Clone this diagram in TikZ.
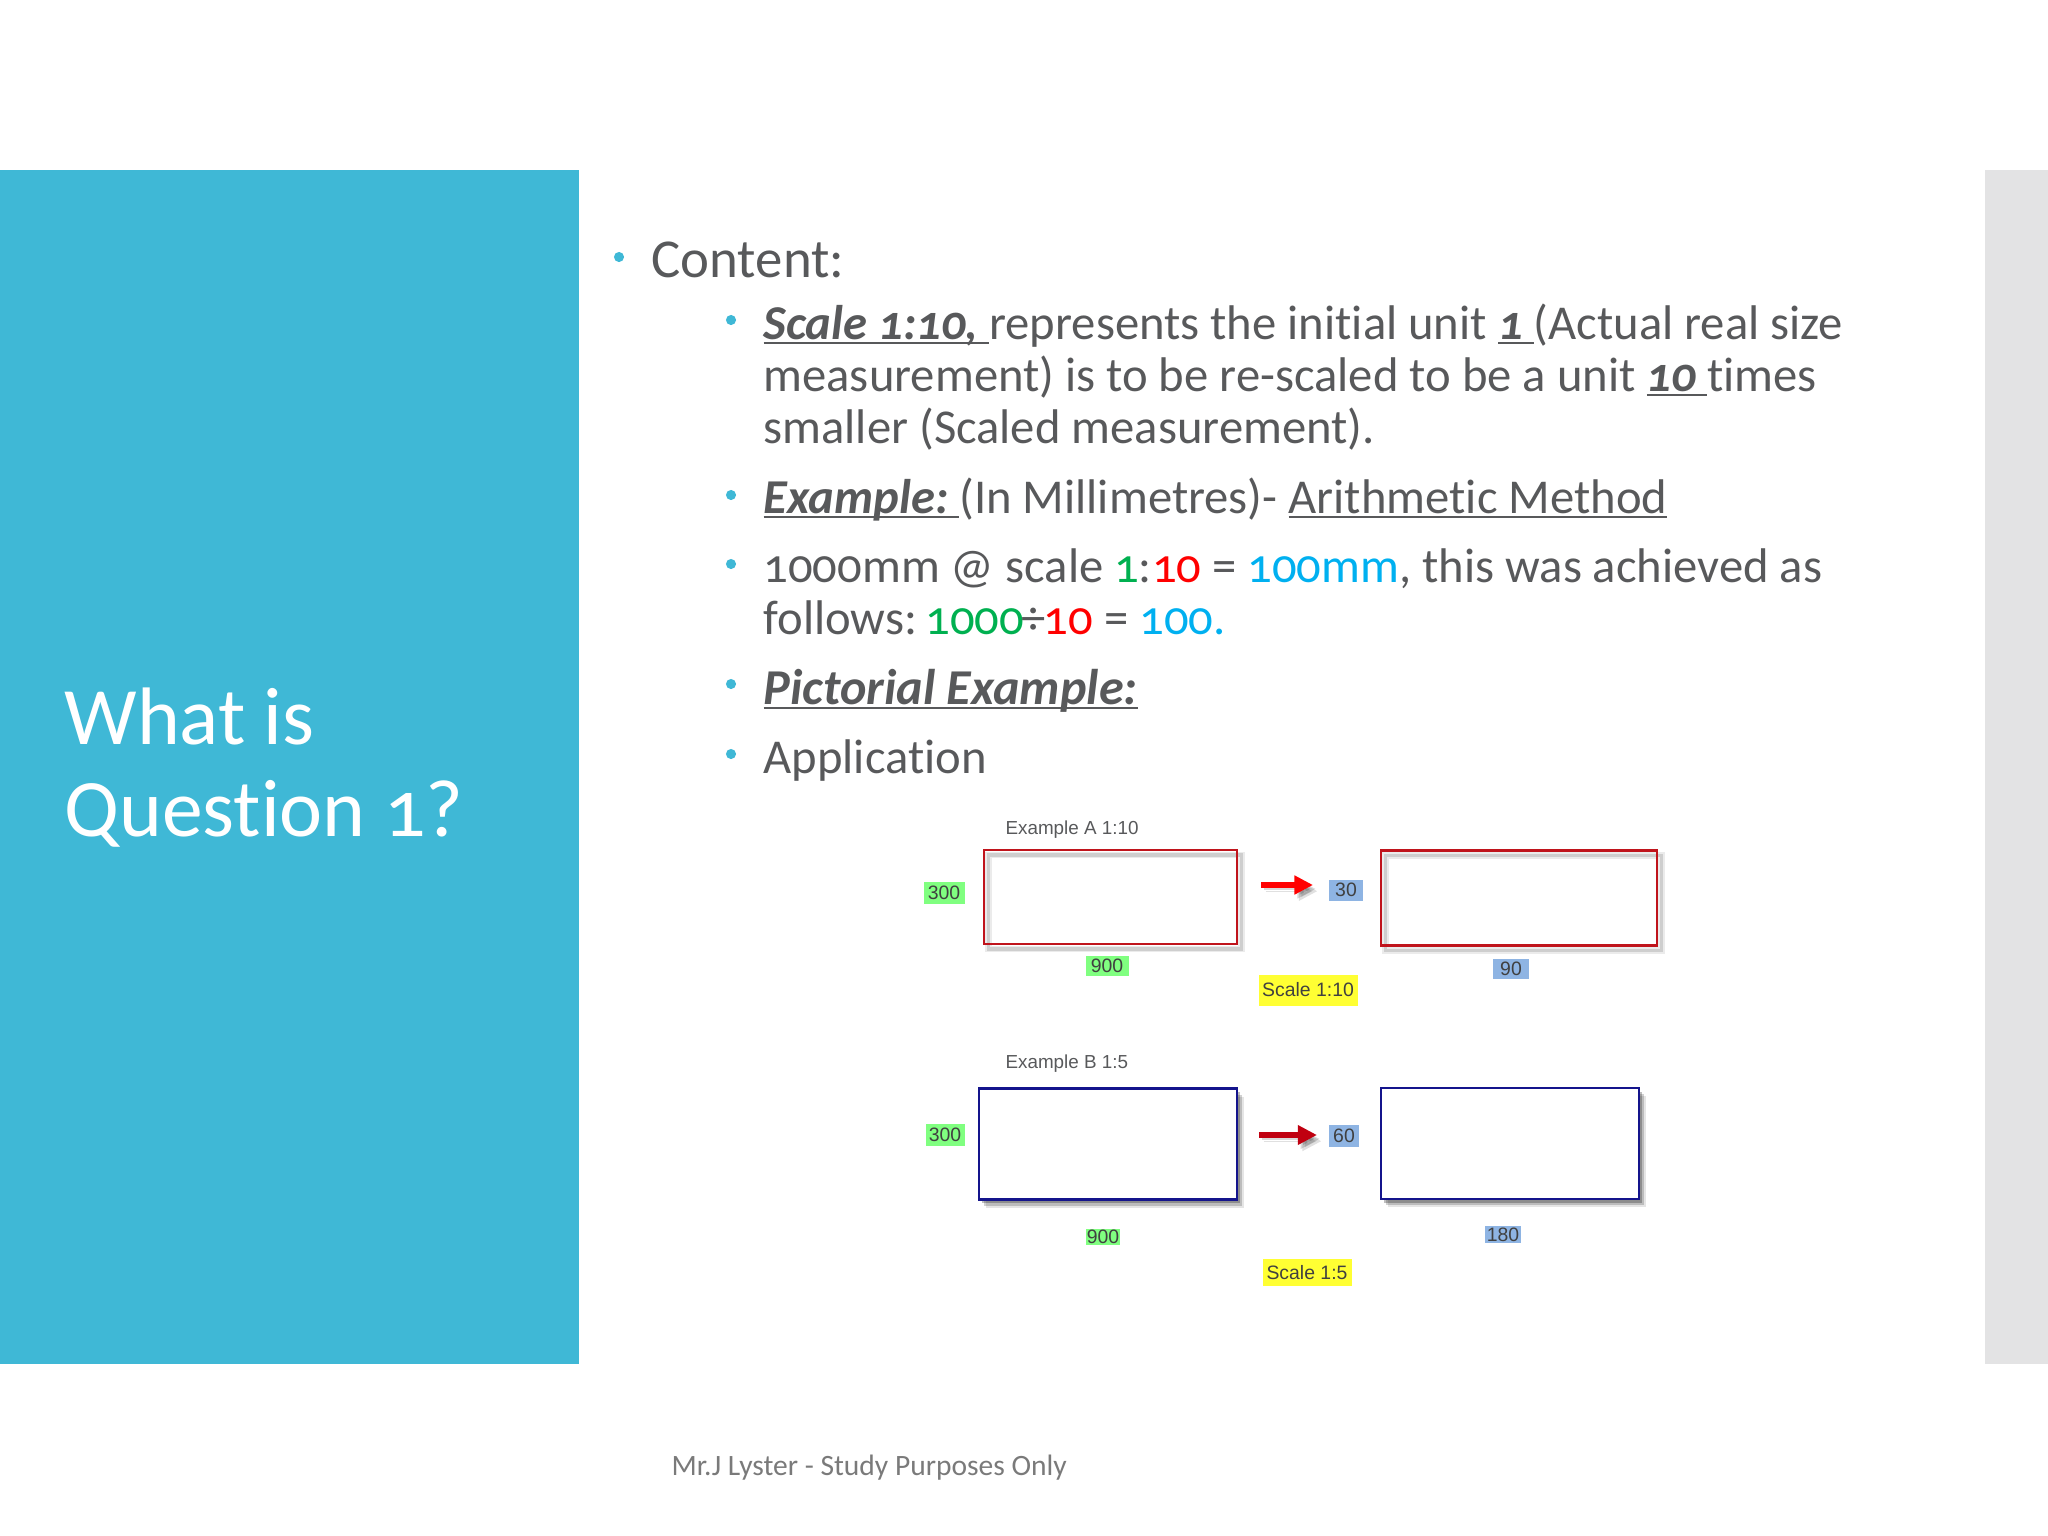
\documentclass[tikz,border=0pt]{standalone}
\usepackage{fontspec}
\setmainfont[Numbers=OldStyle,Ligatures=NoCommon]{Carlito}
\newfontfamily\arialfont{Liberation Sans}
\usetikzlibrary{positioning,shadows,arrows.meta}
\definecolor{panelteal}{HTML}{3FB8D6}
\definecolor{sidegray}{HTML}{E3E3E4}
\definecolor{bodygray}{HTML}{58595B}
\definecolor{footgray}{HTML}{7A7A7A}
\definecolor{numgreen}{HTML}{00B050}
\definecolor{numred}{HTML}{FF0000}
\definecolor{numblue}{HTML}{00B0F0}
\definecolor{taggreen}{HTML}{80FF80}
\definecolor{tagblue}{HTML}{8EB4E3}
\definecolor{tagyellow}{HTML}{FFFF33}
\definecolor{boxred}{HTML}{C0141C}
\definecolor{boxnavy}{HTML}{14148C}
\definecolor{arrowdark}{HTML}{C00010}
\newsavebox{\ulsave}
\newcommand{\ulbox}[1]{\sbox{\ulsave}{#1}\rlap{\rule[-1.8pt]{\wd\ulsave}{0.6pt}}\usebox{\ulsave}}
\newcommand{\bi}[1]{\textit{\textbf{#1}}}

\begin{document}
\begin{tikzpicture}[x=0.0125cm,y=-0.0125cm,
	bodytext/.style={anchor=base west,inner sep=0pt,text=bodygray,font=\fontsize{17.3}{19}\selectfont},
	dotmark/.style={circle,fill=panelteal,inner sep=0pt,minimum size=3.6pt},
	smalltext/.style={inner sep=0pt,text=bodygray,font=\arialfont\fontsize{6.7}{8}\selectfont},
	tagbox/.style={inner sep=0pt,text=black!75,font=\arialfont\fontsize{6.9}{8}\selectfont},
	redbox/.style={draw=boxred,line width=0.8pt,inner sep=0pt,
		drop shadow={shadow xshift=1.6pt,shadow yshift=-1.8pt,fill=none,draw=black,line width=2.4pt,opacity=0.08},
		drop shadow={shadow xshift=1.6pt,shadow yshift=-1.8pt,fill=none,draw=black,line width=1.2pt,opacity=0.12}},
	navybox/.style={draw=boxnavy,line width=0.8pt,fill=white,inner sep=0pt,
		drop shadow={shadow xshift=2.4pt,shadow yshift=-3pt,fill=black,opacity=0.1},
		drop shadow={shadow xshift=1.8pt,shadow yshift=-2.2pt,fill=black,opacity=0.18},
		drop shadow={shadow xshift=1.2pt,shadow yshift=-1.4pt,fill=black,opacity=0.25}},
	softarrow/.style={line width=1.8pt,
		preaction={draw=black,opacity=0.12,transform canvas={xshift=1.6pt,yshift=-2.2pt}},
		preaction={draw=black,opacity=0.15,transform canvas={xshift=1pt,yshift=-1.4pt}}},
	]
	\useasboundingbox (0,0) rectangle (2048,1536);
	\fill[panelteal] (0,170) rectangle (579,1364);
	\fill[sidegray] (1985,170) rectangle (2048,1364);

	\node (T_1) [anchor=base west,inner sep=0pt,text=white,font=\fontsize{29}{32}\selectfont] at (64,744) {What is};
	\node (T_2) [anchor=base west,inner sep=0pt,text=white,font=\fontsize{29}{32}\selectfont] at (64,836) {Question 1?};

	\node[dotmark] (D_0) at (619,257) {};
	\node[dotmark] (D_1) at (731,320) {};
	\node[dotmark] (D_2) at (731,495) {};
	\node[dotmark] (D_3) at (731,564) {};
	\node[dotmark] (D_4) at (731,684) {};
	\node[dotmark] (D_5) at (731,754) {};

	\node[bodytext,font=\fontsize{19.5}{21}\selectfont] (C_0) at (651,277) {Content:};
	\node[bodytext] (C_1) at (763,339) {\ulbox{\bi{Scale 1:10,}\ }represents the initial unit \ulbox{\bi{1}\ }(Actual real size};
	\node[bodytext] (C_2) at (763,391) {measurement) is to be re-scaled to be a unit \ulbox{\bi{10}\ }times};
	\node[bodytext] (C_3) at (763,443) {smaller (Scaled measurement).};
	\node[bodytext] (C_4) at (763,513) {\ulbox{\bi{Example:}\ }(In Millimetres)- \ulbox{Arithmetic Method}};
	\node[bodytext] (C_5) at (763,582) {1000mm @ scale \textcolor{numgreen}{1}:\textcolor{numred}{10} = \textcolor{numblue}{100mm}, this was achieved as};
	\node[bodytext] (C_6) at (763,634) {follows:\kern-1pt\ \textcolor{numgreen}{1000}\kern-0.8pt÷\kern-0.8pt\textcolor{numred}{10} = \textcolor{numblue}{100.}};
	\node[bodytext] (C_7) at (763,704) {\ulbox{\bi{\fontsize{17.85}{20}\selectfont Pictorial Example:}}};
	\node[bodytext] (C_8) at (763,773) {Application};

	\node[smalltext,anchor=west] (E_A) at (1005,830) {Example A 1:10};
	\node[redbox,minimum width=253*0.0125cm,minimum height=94*0.0125cm] (R_A1) at (1110.5,897) {};
	\node[redbox,minimum width=276*0.0125cm,minimum height=95*0.0125cm] (R_A2) at (1519,898) {};
	\node[tagbox,fill=taggreen,minimum width=41*0.0125cm,minimum height=22*0.0125cm] (L_A1) at (944,893) {300};
	\node[tagbox,fill=tagblue,minimum width=34*0.0125cm,minimum height=21*0.0125cm] (L_A2) at (1346,890) {30};
	\node[tagbox,fill=taggreen,minimum width=43*0.0125cm,minimum height=20*0.0125cm] (L_A3) at (1107,966) {900};
	\node[tagbox,fill=tagblue,minimum width=36*0.0125cm,minimum height=20*0.0125cm] (L_A4) at (1511,969) {90};
	\node[tagbox,fill=tagyellow,minimum width=99*0.0125cm,minimum height=31*0.0125cm] (S_A) at (1308,990) {Scale 1:10};
	\coordinate (P_A1) at (1261,885);
	\coordinate (P_A2) at (1313,885);
	\draw[-{Triangle[length=6.6pt,width=6.4pt]},softarrow,numred] (P_A1) -- (P_A2);

	\node[smalltext,anchor=west] (E_B) at (1005,1064) {Example B 1:5};
	\node[navybox,minimum width=258*0.0125cm,minimum height=111*0.0125cm] (R_B1) at (1108,1144) {};
	\node[navybox,minimum width=258*0.0125cm,minimum height=111*0.0125cm] (R_B2) at (1510,1143.5) {};
	\node[tagbox,fill=taggreen,minimum width=39*0.0125cm,minimum height=22*0.0125cm] (L_B1) at (945,1135) {300};
	\node[tagbox,fill=tagblue,minimum width=30*0.0125cm,minimum height=22*0.0125cm] (L_B2) at (1344,1136) {60};
	\node[tagbox,fill=taggreen,minimum width=34*0.0125cm,minimum height=16*0.0125cm] (L_B3) at (1103,1237) {900};
	\node[tagbox,fill=tagblue,minimum width=36*0.0125cm,minimum height=17*0.0125cm] (L_B4) at (1503,1234.5) {180};
	\node[tagbox,fill=tagyellow,minimum width=89*0.0125cm,minimum height=27*0.0125cm] (S_B) at (1307,1272.5) {Scale 1:5};
	\coordinate (P_B1) at (1259,1135);
	\coordinate (P_B2) at (1317,1135);
	\draw[-{Triangle[length=6.8pt,width=6.6pt]},softarrow,arrowdark] (P_B1) -- (P_B2);

	\node (F_1) [anchor=base west,inner sep=0pt,text=footgray,font=\fontsize{10.5}{12}\selectfont] at (671,1475) {Mr.J Lyster - Study Purposes Only};
\end{tikzpicture}
\end{document}
